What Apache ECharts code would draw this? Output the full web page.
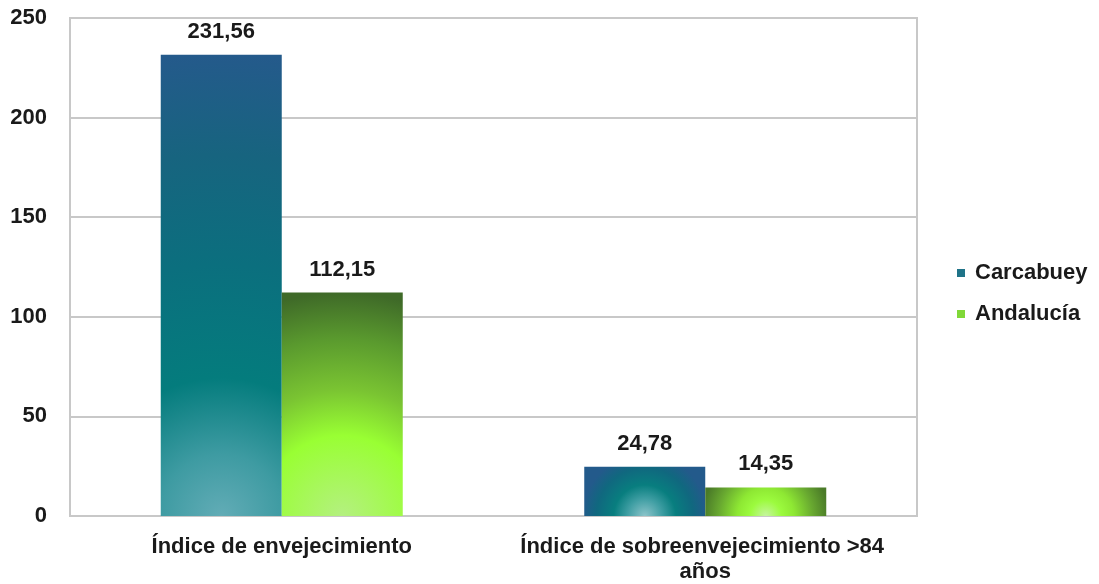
<!DOCTYPE html>
<html>
<head>
<meta charset="utf-8">
<script src="https://cdn.jsdelivr.net/npm/echarts@6/dist/echarts.min.js"></script>
<style>
html,body{margin:0;padding:0;background:#fff;}
#chart{width:1099px;height:584px;}
</style>
</head>
<body>
<div id="chart"></div>
<script>
// ---- data ----
const categories = ['Índice de envejecimiento', 'Índice de sobreenvejecimiento >84 años'];
const seriesNames = ['Carcabuey', 'Andalucía'];
const carcabuey = [231.56, 24.78];
const andalucia = [112.15, 14.35];
const yTicks = { min: 0, max: 250, interval: 50 };

// ---- styles (per bar radial gradients, centred at bottom) ----
function radial(r, stops) {
  return { type: 'radial', x: 0.5, y: 1, r: r,
    colorStops: stops.map(s => ({ offset: s[0], color: s[1] })) };
}
const carcabueyStyles = [
  radial(3.93, [[0, '#62acb6'], [0.13, '#3e9ba2'], [0.29, '#047c7d'], [0.53, '#0b6f7e'], [0.76, '#17647f'], [0.97, '#245a8b'], [1, '#245a8b']]),
  radial(1.4, [[0, '#8cc4ca'], [0.25, '#3f9ea3'], [0.45, '#087e7f'], [0.7, '#10687f'], [0.9, '#235a8b'], [1, '#235a8b']])
];
const andaluciaStyles = [
  radial(1.9, [[0, '#b4f080'], [0.35, '#99ff33'], [0.55, '#7ac432'], [0.77, '#5a9a2e'], [0.97, '#3f6a28'], [1, '#3f6a28']]),
  radial(2.2, [[0, '#c6f5a0'], [0.25, '#9cfb3e'], [0.45, '#8ee833'], [0.75, '#68a830'], [1, '#4a7a28']])
];

const FONT = '"Liberation Sans", Arial, sans-serif';
const TXT = '#1a1a1a';

function items(vals, styles) {
  return vals.map((v, i) => ({ value: v, itemStyle: { color: styles[i] } }));
}
const labelCfg = {
  show: true, position: 'top', distance: 12,
  fontFamily: FONT, fontWeight: 'bold', fontSize: 22, color: TXT,
  formatter: p => p.value.toFixed(2).replace('.', ',')
};

const chart = echarts.init(document.getElementById('chart'), null, { renderer: 'canvas' });
chart.setOption({
  animation: false,
  backgroundColor: '#fff',
  grid: { left: 70, right: 182, top: 18, bottom: 67, show: true, borderColor: '#c8c8c8', borderWidth: 2, containLabel: false },
  legend: {
    orient: 'vertical', left: 957, top: 262, padding: 0,
    itemWidth: 8, itemHeight: 8, itemGap: 19, icon: 'rect',
    textStyle: { fontFamily: FONT, fontWeight: 'bold', fontSize: 22, color: TXT, padding: [0, 0, 0, 5] },
    data: seriesNames
  },
  xAxis: {
    type: 'category', data: categories,
    axisLine: { lineStyle: { color: '#c8c8c8', width: 2 } },
    axisTick: { show: false },
    axisLabel: { interval: 0, margin: 18, fontFamily: FONT, fontWeight: 'bold', fontSize: 22, color: TXT,
      width: 405, overflow: 'break', lineHeight: 25 }
  },
  yAxis: {
    type: 'value', min: yTicks.min, max: yTicks.max, interval: yTicks.interval,
    axisLine: { show: true, lineStyle: { color: '#c8c8c8', width: 2 } },
    axisTick: { show: false },
    splitLine: { lineStyle: { color: '#c8c8c8', width: 2 } },
    axisLabel: { margin: 23, fontFamily: FONT, fontWeight: 'bold', fontSize: 22, color: TXT }
  },
  series: [
    { name: seriesNames[0], type: 'bar', barWidth: 121, barGap: '0%',
      itemStyle: { color: '#1f7388' }, label: labelCfg, data: items(carcabuey, carcabueyStyles) },
    { name: seriesNames[1], type: 'bar', barWidth: 121, barGap: '0%',
      itemStyle: { color: '#80d838' }, label: labelCfg, data: items(andalucia, andaluciaStyles) }
  ]
});
</script>
</body>
</html>
